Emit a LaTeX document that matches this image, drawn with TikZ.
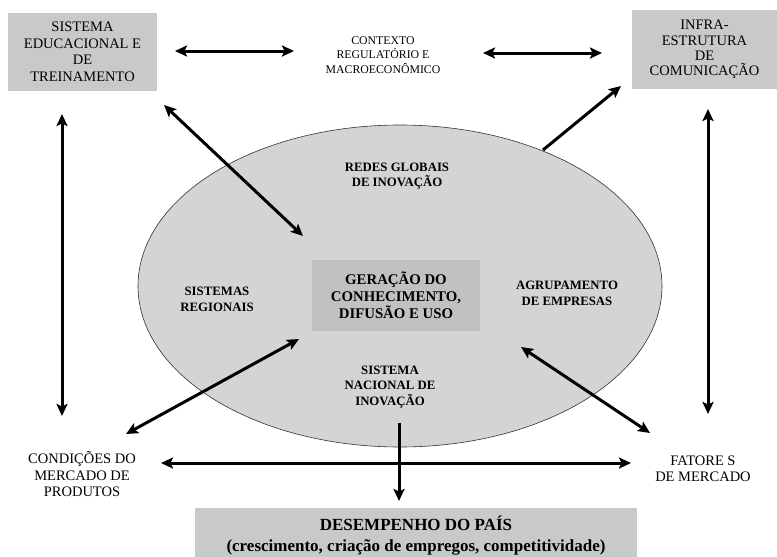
\documentclass[tikz,border=0pt]{standalone}
\usepackage{fontspec}
\setmainfont{Liberation Serif}
\usetikzlibrary{arrows.meta,shapes.geometric}

\definecolor{caixacor}{RGB}{200,201,203}
\definecolor{elipsecor}{RGB}{211,212,214}
\definecolor{centrocor}{RGB}{192,193,195}

\newcommand{\fnormal}{\fontsize{14.5}{16.5}\selectfont}
\newcommand{\fmenor}{\fontsize{11.8}{14.5}\selectfont}
\newcommand{\fnegrito}{\fontsize{12.8}{15.8}\selectfont\bfseries}
\newcommand{\fcentro}{\fontsize{14.8}{17}\selectfont\bfseries}
\newcommand{\fdesemp}{\fontsize{17}{20.5}\selectfont\bfseries}

\begin{document}
\begin{tikzpicture}[x=1pt,y=-1pt,
  caixa/.style={fill=caixacor,inner sep=0pt,align=center},
  rotulo/.style={inner sep=0pt,align=center},
  seta/.style={line width=3pt,-{Stealth[length=12pt,width=11pt,inset=2.5pt]}},
  setadupla/.style={line width=3pt,{Stealth[length=12pt,width=11pt,inset=2.5pt]}-{Stealth[length=12pt,width=11pt,inset=2.5pt]}}]
\useasboundingbox (0,0) rectangle (777,557);

% elipse e caixa central
\node[draw=black!80,fill=elipsecor,ellipse,line width=0.6pt,inner sep=0pt,
  minimum width=524,minimum height=322] (sni) at (400,286) {};
\node[caixa,fill=centrocor,minimum width=168,minimum height=71,font=\fcentro] (geracao) at (396,295.5)
  {GERAÇÃO DO\\CONHECIMENTO,\\DIFUSÃO E USO};

\node[rotulo,font=\fnegrito] (redes) at (397,176) {REDES GLOBAIS\\DE INOVAÇÃO};
\node[rotulo,font=\fnegrito] (regionais) at (217,299) {SISTEMAS\\REGIONAIS};
\node[rotulo,font=\fnegrito] (agrup) at (567,293) {AGRUPAMENTO\\DE EMPRESAS};
\node[rotulo,font=\fnegrito] (nacional) at (390,387) {SISTEMA\\NACIONAL DE\\INOVAÇÃO};

% caixas de fora
\node[caixa,minimum width=149,minimum height=78,font=\fnormal] (educ) at (82.5,52)
  {SISTEMA\\EDUCACIONAL E\\DE\\TREINAMENTO};
\node[caixa,minimum width=145,minimum height=79,font=\fontsize{14.5}{15.2}\selectfont] (infra) at (704.5,49.5)
  {INFRA-\\ESTRUTURA\\DE\\COMUNICAÇÃO};
\node[rotulo,font=\fmenor] (contexto) at (383,55) {CONTEXTO\\REGULATÓRIO E\\MACROECONÔMICO};
\node[rotulo,font=\fnormal] (condicoes) at (82,474) {CONDIÇÕES DO\\MERCADO DE\\PRODUTOS};
\node[rotulo,font=\fnormal] (fatores) at (703,469) {FATORE S\\DE MERCADO};
\fill[caixacor] (195,508) rectangle (637,557);
\node[rotulo,font=\fdesemp] (desemp) at (416,535.5)
  {DESEMPENHO DO PAÍS\\(crescimento, criação de empregos, competitividade)};

% pontas das setas
\coordinate (e1) at (175,51);   \coordinate (e2) at (294,51);
\coordinate (c1) at (483,53);   \coordinate (c2) at (602,53);
\coordinate (v1) at (62,114);   \coordinate (v2) at (62,416);
\coordinate (w1) at (708,109);  \coordinate (w2) at (708,414);
\coordinate (d1) at (164,105);  \coordinate (d2) at (303,236);
\coordinate (f1) at (543,150);  \coordinate (f2) at (621,86);
\coordinate (g1) at (299,339);  \coordinate (g2) at (126,434);
\coordinate (h1) at (521,347);  \coordinate (h2) at (650,433);
\coordinate (m1) at (161,463);  \coordinate (m2) at (631,463);
\coordinate (p1) at (399,423);  \coordinate (p2) at (399,501);

\draw[setadupla] (e1) -- (e2);
\draw[setadupla] (c1) -- (c2);
\draw[setadupla] (v1) -- (v2);
\draw[setadupla] (w1) -- (w2);
\draw[setadupla] (d1) -- (d2);
\draw[seta] (f1) -- (f2);
\draw[setadupla] (g1) -- (g2);
\draw[setadupla] (h1) -- (h2);
\draw[setadupla] (m1) -- (m2);
\draw[seta] (p1) -- (p2);

\end{tikzpicture}
\end{document}
